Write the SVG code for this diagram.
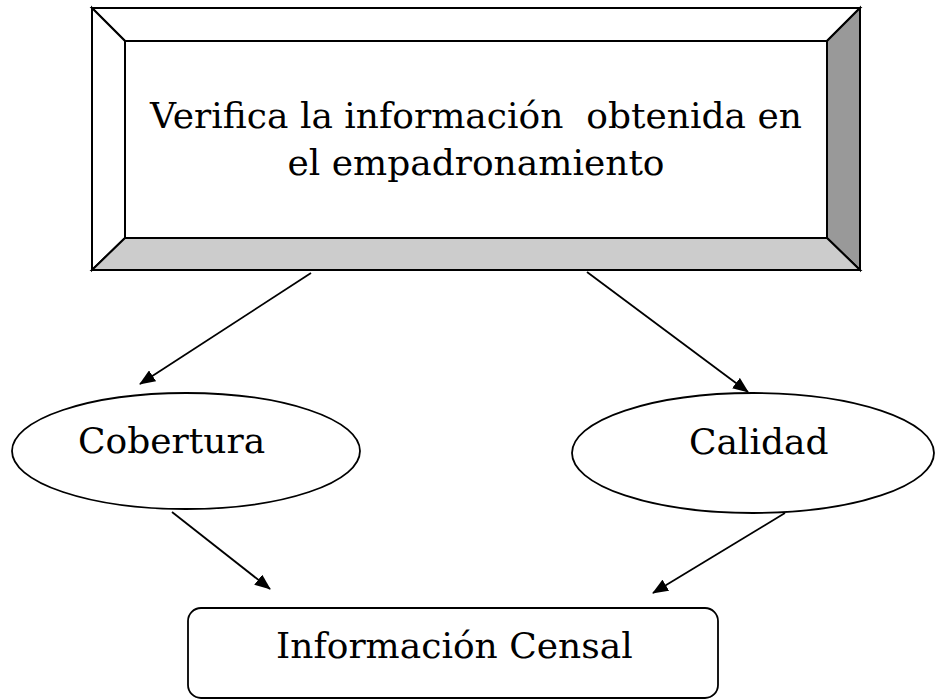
<svg xmlns="http://www.w3.org/2000/svg" width="935" height="700" viewBox="0 0 935 700">
  <style>
    .label { font-family: "DejaVu Serif", "Liberation Serif", serif; font-size: 36px; fill: #000; }
    .edge { stroke: #000; stroke-width: 1.8; fill: none; marker-end: url(#arrow); }
    .outline { stroke: #000; stroke-width: 1.8; fill: #fff; }
    .bevel { stroke: #000; stroke-width: 2; stroke-linejoin: miter; }
  </style>
  <defs>
    <marker id="arrow" viewBox="0 0 16 13" refX="15" refY="6.5" markerWidth="16" markerHeight="13" markerUnits="userSpaceOnUse" orient="auto">
      <path d="M0,0 L16,6.5 L0,13 Z" fill="#000"/>
    </marker>
  </defs>
  <rect width="935" height="700" fill="#fff"/>

  <!-- beveled header box -->
  <g id="verifica">
    <polygon class="bevel" fill="#fff" points="92,8 860,8 827,41 125,41"/>
    <polygon class="bevel" fill="#fff" points="92,8 125,41 125,238 92,270"/>
    <polygon class="bevel" fill="#999999" points="860,8 860,270 827,238 827,41"/>
    <polygon class="bevel" fill="#cccccc" points="92,270 125,238 827,238 860,270"/>
    <rect class="bevel" x="125" y="41" width="702" height="197" fill="#fff"/>
    <rect class="bevel" x="92" y="8" width="768" height="262" fill="none"/>
    <text class="label" x="476" y="128" text-anchor="middle" xml:space="preserve">Verifica la información  obtenida en</text>
    <text class="label" x="476" y="175" text-anchor="middle">el empadronamiento</text>
  </g>

  <g id="cobertura">
    <ellipse class="outline" cx="186" cy="451" rx="174" ry="58"/>
    <text class="label" x="78" y="453">Cobertura</text>
  </g>

  <g id="calidad">
    <ellipse class="outline" cx="753" cy="453" rx="181" ry="60"/>
    <text class="label" x="689" y="454">Calidad</text>
  </g>

  <g id="informacion-censal">
    <rect class="outline" x="188" y="608" width="530" height="90" rx="13" ry="13"/>
    <text class="label" x="276" y="658">Información Censal</text>
  </g>

  <g id="connectors">
    <line class="edge" x1="311" y1="273" x2="140" y2="384"/>
    <line class="edge" x1="587" y1="272" x2="748" y2="392"/>
    <line class="edge" x1="172" y1="512" x2="270" y2="589"/>
    <line class="edge" x1="785" y1="513" x2="653" y2="593"/>
  </g>
</svg>
